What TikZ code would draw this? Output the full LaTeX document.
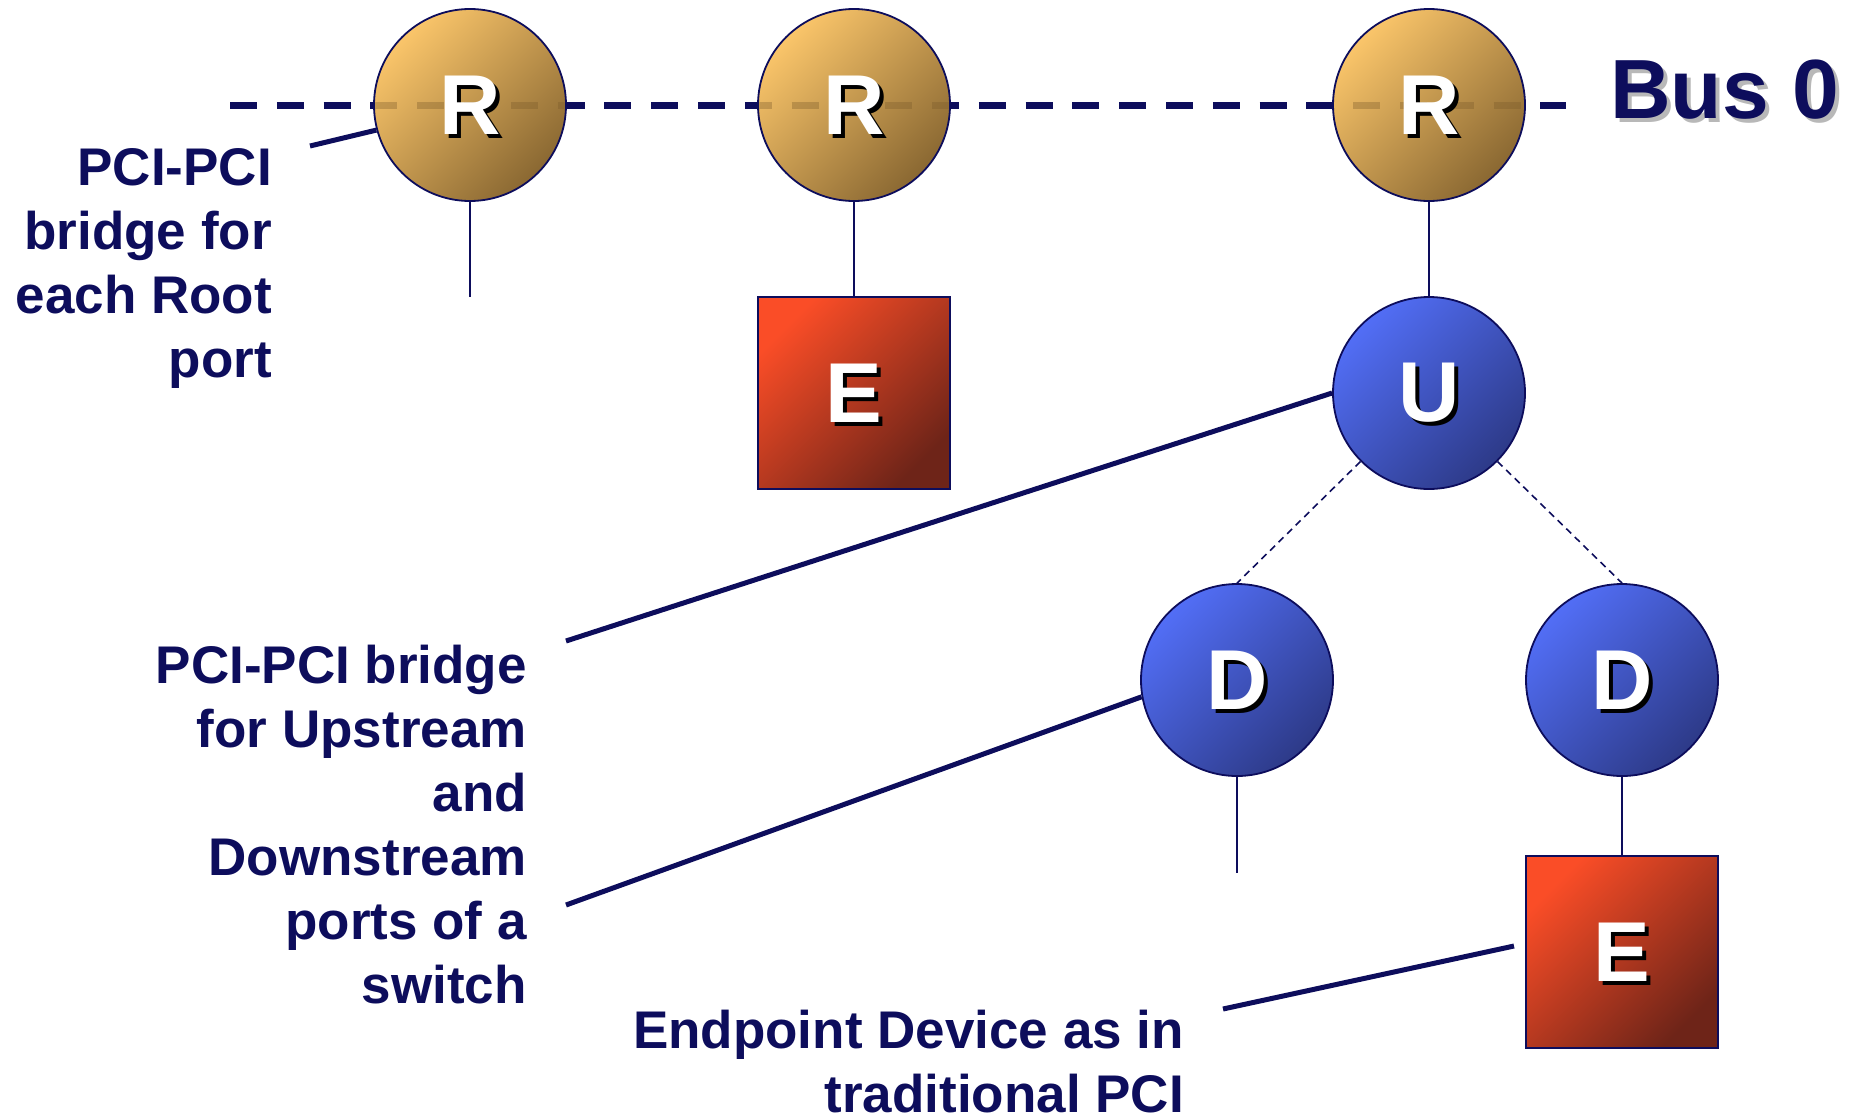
\documentclass[tikz,border=0pt]{standalone}
\usepackage{fontspec}
\setmainfont{Liberation Sans}
\usetikzlibrary{calc}

\definecolor{navy}{HTML}{0D0D5C}
\definecolor{rlight}{HTML}{FAC56A}
\definecolor{rdark}{HTML}{8A6832}
\definecolor{blight}{HTML}{526EF6}
\definecolor{bdark}{HTML}{2D3A88}
\definecolor{elight}{HTML}{FA4D27}
\definecolor{edark}{HTML}{6E2418}
\definecolor{busshadow}{HTML}{B8B8B8}
\definecolor{busghost}{HTML}{7A5A2A}

% letter with a drop shadow behind it: #1 shadow colour, #2 letter colour, #3 text
\newcommand\castshadow[3]{\rlap{\kern4pt\smash{\raisebox{-4pt}{\textcolor{#1}{#3}}}}\textcolor{#2}{#3}}

\tikzset{
  x=1pt, y=-1pt,
  devnode/.style={draw=navy, line width=1.8pt, minimum size=192pt, inner sep=0pt,
    font=\fontsize{85}{85}\selectfont\bfseries},
  rootport/.style={devnode, circle, top color=rlight, bottom color=rdark, shading angle=45},
  switchport/.style={devnode, circle, top color=blight, bottom color=bdark, shading angle=45},
  endpoint/.style={devnode, rectangle, top color=elight, bottom color=edark, shading angle=45},
  portletter/.style={font=\fontsize{85}{85}\selectfont\bfseries},
  link/.style={navy, line width=1.8pt},
  internal/.style={navy, line width=1.6pt, dash pattern=on 7pt off 5pt},
  leader/.style={navy, line width=5pt},
  bus/.style={navy, line width=7pt, dash pattern=on 27pt off 19.8pt},
  busthrough/.style={busghost, line width=7pt, dash pattern=on 27pt off 19.8pt, opacity=0.35},
  caption/.style={anchor=north east, inner sep=0pt, align=right, text=navy,
    font=\fontsize{53}{64}\selectfont\bfseries},
}

\begin{document}
\begin{tikzpicture}
\useasboundingbox (0,0) rectangle (1862,1117);

% Bus 0 runs behind the root ports
\coordinate (busL) at (230,105);
\coordinate (busR) at (1566,105);
\draw[bus] (busL) -- (busR);
\node[anchor=base west, inner sep=0pt, font=\fontsize{84}{84}\selectfont\bfseries]
  (bus0) at (1610,118) {\castshadow{busshadow}{navy}{Bus 0}};

% root complex ports
\node[rootport] (R1) at (470,105) {};
\node[rootport] (R2) at (854,105) {};
\node[rootport] (R3) at (1429,105) {};

% the bus shows faintly through the ports
\begin{scope}
  \clip (R1) circle (95) (R2) circle (95) (R3) circle (95);
  \draw[busthrough] (busL) -- (busR);
\end{scope}

\node[portletter] (R1t) at (R1) {\castshadow{black}{white}{R}};
\node[portletter] (R2t) at (R2) {\castshadow{black}{white}{R}};
\node[portletter] (R3t) at (R3) {\castshadow{black}{white}{R}};

% switch: upstream and downstream ports
\node[switchport] (U)  at (1429,393) {\castshadow{black}{white}{U}};
\node[switchport] (D1) at (1237,680) {\castshadow{black}{white}{D}};
\node[switchport] (D2) at (1622,680) {\castshadow{black}{white}{D}};

% endpoints
\node[endpoint] (E1) at (854,393) {\castshadow{black}{white}{E}};
\node[endpoint] (E2) at (1622,952) {\castshadow{black}{white}{E}};

% links
\coordinate (R1end) at (470,297);
\coordinate (D1end) at (1237,873);
\draw[link] (R1.south) -- (R1end);
\draw[link] (R2.south) -- (E1.north);
\draw[link] (R3.south) -- (U.north);
\draw[link] (D1.south) -- (D1end);
\draw[link] (D2.south) -- (E2.north);
\draw[internal] (U.south west) -- (D1.north);
\draw[internal] (U.south east) -- (D2.north);

% captions and their leaders
\node[caption] (cap1) at (272,148) {PCI-PCI\\bridge for\\each Root\\port};
\node[caption] (cap2) at (527,645) {PCI-PCI bridge\\for Upstream\\and\\Downstream\\ports of a\\switch};
\node[caption] (cap3) at (1184,1010) {Endpoint Device as in\\traditional PCI};

\coordinate (l1) at (310,146);
\coordinate (l2) at (566,641);
\coordinate (l3) at (566,905);
\coordinate (l4) at (1223,1009);
\coordinate (l4end) at (1514,946);
\draw[leader] (l1) -- (R1.195);
\draw[leader] (l2) -- (U.west);
\draw[leader] (l3) -- (D1.190);
\draw[leader] (l4) -- (l4end);
\end{tikzpicture}
\end{document}
